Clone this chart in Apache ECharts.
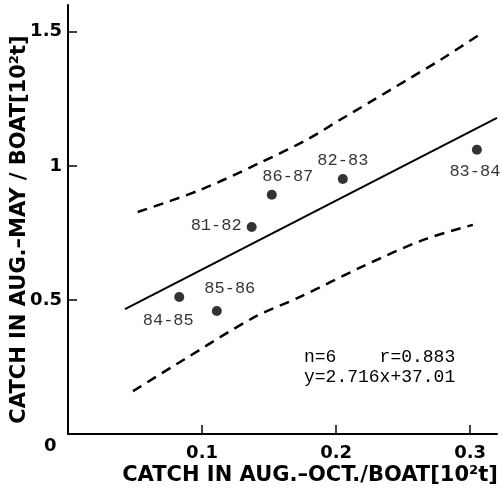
<!DOCTYPE html>
<html>
<head>
<meta charset="utf-8">
<script src="https://cdn.jsdelivr.net/npm/echarts@6/dist/echarts.min.js"></script>
<style>
html,body{margin:0;padding:0;background:#fff;}
#c{width:503px;height:494px;}
</style>
</head>
<body>
<div id="c"></div>
<script>
// ---- data ----
const seasons = ['84-85', '85-86', '81-82', '86-87', '82-83', '83-84'];
const catchAugOct = [0.083, 0.111, 0.137, 0.152, 0.205, 0.305];
const catchAugMay = [0.511, 0.459, 0.772, 0.892, 0.951, 1.060];

const fitX = [0.0425, 0.32];
const fitY = [0.466, 1.179];

const upperX = [0.052, 0.0985, 0.143, 0.178, 0.203, 0.228, 0.253, 0.278, 0.308];
const upperY = [0.828, 0.910, 1.011, 1.097, 1.172, 1.246, 1.321, 1.396, 1.493];

const lowerX = [0.0485, 0.086, 0.138, 0.173, 0.219, 0.265, 0.302];
const lowerY = [0.160, 0.276, 0.433, 0.511, 0.623, 0.724, 0.780];

const xTicks = [0.1, 0.2, 0.3];
const yTicks = [0.5, 1, 1.5];

const statsLine1 = 'n=6    r=0.883';
const statsLine2 = 'y=2.716x+37.01';
const xName = 'CATCH IN AUG.\u2013OCT./BOAT[10\u00B2t]';
const yName = 'CATCH IN AUG.\u2013MAY / BOAT[10\u00B2t]';

// ---- label placement (presentation only) ----
const labelPlace = {
  '84-85': {position: 'bottom', offset: [-11, 3]},
  '85-86': {position: 'top', offset: [13, -2]},
  '81-82': {position: 'left', offset: [2, -2]},
  '86-87': {position: 'top', offset: [16, 2]},
  '82-83': {position: 'top', offset: [0, 2]},
  '83-84': {position: 'bottom', offset: [-2, 1]}
};

const zip = (a, b) => a.map((v, i) => [v, b[i]]);
const mono = 'Liberation Mono';
const sans = 'DejaVu Sans';

const chart = echarts.init(document.getElementById('c'));
chart.setOption({
  animation: false,
  backgroundColor: '#fff',
  grid: {left: 68, right: 6, top: 5, bottom: 60, containLabel: false, outerBoundsMode: 'none'},
  xAxis: {
    type: 'value', min: 0, max: 0.32,
    splitLine: {show: false},
    axisLine: {onZero: false, lineStyle: {color: '#000', width: 2}},
    axisTick: {inside: true, length: 9, lineStyle: {color: '#000', width: 1.5}, customValues: xTicks},
    axisLabel: {customValues: xTicks, color: '#000', fontFamily: sans, fontWeight: 'bold', fontSize: 18, margin: 10},
    name: xName, nameLocation: 'middle', nameGap: 31, nameMoveOverlap: false,
    nameTextStyle: {color: '#000', fontFamily: sans, fontWeight: 'bold', fontSize: 21, padding: [0, 0, 0, 55]}
  },
  yAxis: {
    type: 'value', min: 0, max: 1.6,
    splitLine: {show: false},
    axisLine: {onZero: false, lineStyle: {color: '#000', width: 2}},
    axisTick: {inside: true, length: 9, lineStyle: {color: '#000', width: 1.5}, customValues: yTicks},
    axisLabel: {customValues: yTicks, color: '#000', fontFamily: sans, fontWeight: 'bold', fontSize: 18, margin: 6},
    name: yName, nameLocation: 'middle', nameGap: 38, nameMoveOverlap: false,
    nameTextStyle: {color: '#000', fontFamily: sans, fontWeight: 'bold', fontSize: 21, padding: [0, 20, 0, 0]}
  },
  graphic: [
    {type: 'text', left: 44, top: 437, style: {text: '0', fill: '#000', font: 'bold 18px "DejaVu Sans"'}},
    {type: 'text', left: 304, top: 347, style: {text: statsLine1 + '\n' + statsLine2, fill: '#000', font: '18px "Liberation Mono"', lineHeight: 20}}
  ],
  series: [
    {
      type: 'line', data: zip(fitX, fitY), symbol: 'none',
      lineStyle: {color: '#000', width: 2}, silent: true
    },
    {
      type: 'line', data: zip(upperX, upperY), symbol: 'none', smooth: 0.3,
      lineStyle: {color: '#000', width: 2.5, type: [10, 7]}, silent: true
    },
    {
      type: 'line', data: zip(lowerX, lowerY), symbol: 'none', smooth: 0.3,
      lineStyle: {color: '#000', width: 2.5, type: [10, 7]}, silent: true
    },
    {
      type: 'scatter', symbolSize: 10,
      itemStyle: {color: '#000'},
      data: seasons.map((s, i) => ({
        name: s, value: [catchAugOct[i], catchAugMay[i]],
        label: Object.assign({show: true, formatter: s, color: '#000', fontFamily: mono, fontSize: 17, distance: 7}, labelPlace[s])
      }))
    }
  ]
});
</script>
</body>
</html>
